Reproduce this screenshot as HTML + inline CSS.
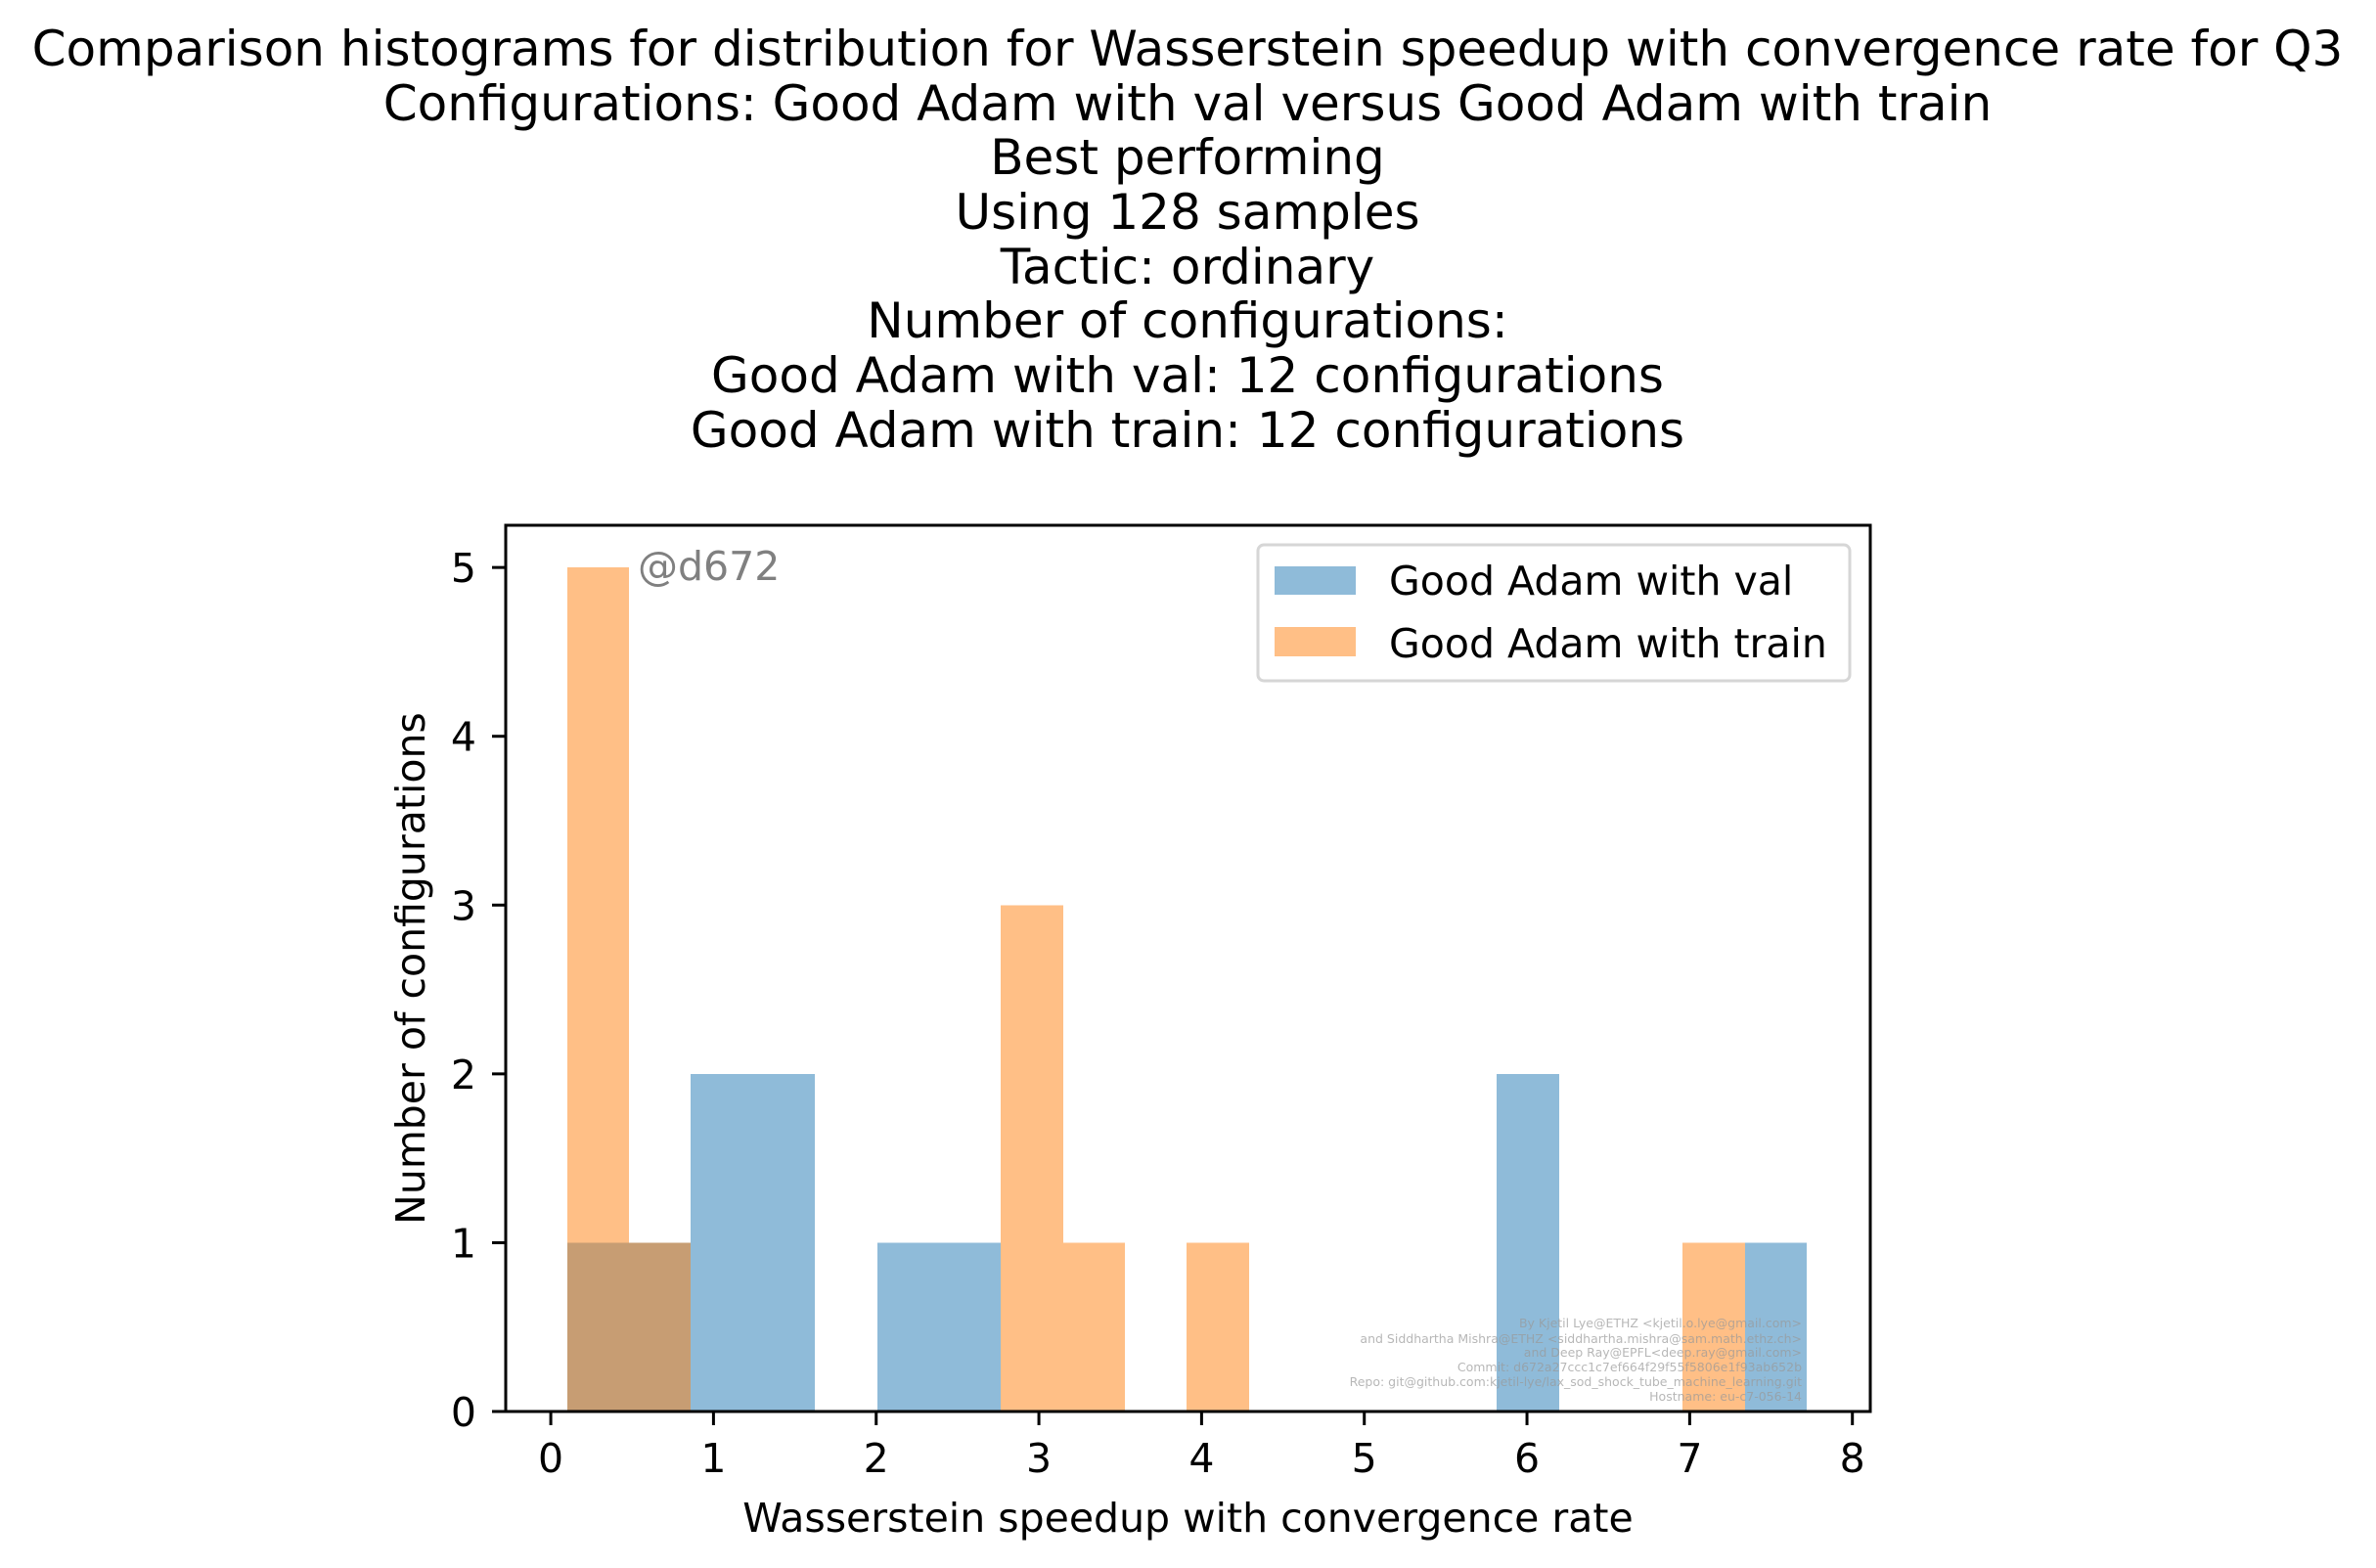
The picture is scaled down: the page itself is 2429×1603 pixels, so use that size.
<!DOCTYPE html>
<html><head><meta charset="utf-8"><style>body{margin:0;background:#fff}svg{display:block}text{font-family:"DejaVu Sans","Liberation Sans",sans-serif}</style></head>
<body>
<svg id="chart" width="2429" height="1603" xmlns="http://www.w3.org/2000/svg">
<g font-size="50" text-anchor="middle" fill="#000">
<text x="1214" y="67">Comparison histograms for distribution for Wasserstein speedup with convergence rate for Q3</text>
<text x="1214" y="123">Configurations: Good Adam with val versus Good Adam with train</text>
<text x="1214" y="178">Best performing</text>
<text x="1214" y="234">Using 128 samples</text>
<text x="1214" y="290">Tactic: ordinary</text>
<text x="1214" y="345">Number of configurations:</text>
<text x="1214" y="401">Good Adam with val: 12 configurations</text>
<text x="1214" y="457">Good Adam with train: 12 configurations</text>
</g>
<g id="bars" shape-rendering="crispEdges"></g>
<g id="axes"></g>
<text x="652" y="593" font-size="41" fill="#808080">@d672</text>
<g font-size="12.5" fill="#999" fill-opacity="0.7" text-anchor="end">
<text x="1842" y="1357">By Kjetil Lye@ETHZ &lt;kjetil.o.lye@gmail.com&gt;</text>
<text x="1842" y="1373">and Siddhartha Mishra@ETHZ &lt;siddhartha.mishra@sam.math.ethz.ch&gt;</text>
<text x="1842" y="1387">and Deep Ray@EPFL&lt;deep.ray@gmail.com&gt;</text>
<text x="1842" y="1402">Commit: d672a27ccc1c7ef664f29f55f5806e1f93ab652b</text>
<text x="1842" y="1417">Repo: git@github.com:kjetil-lye/lax_sod_shock_tube_machine_learning.git</text>
<text x="1842" y="1432">Hostname: eu-c7-056-14</text>
</g>
<g>
<rect x="1286" y="557" width="605" height="139" rx="6" fill="#fff" fill-opacity="0.8" stroke="#d6d6d6" stroke-width="3"/>
<rect x="1303" y="579" width="83" height="29" fill="#1f77b4" fill-opacity="0.5"/>
<text x="1420" y="608" font-size="41">Good Adam with val</text>
<rect x="1303" y="641" width="83" height="30" fill="#ff7f0e" fill-opacity="0.5"/>
<text x="1420" y="672" font-size="41">Good Adam with train</text>
</g>
</svg>
<script>
const binStart = 0.1;
const binWidth = 0.381;
const valCounts   = [1,1,2,2,0,1,1,0,0,0,0,0,0,0,0,2,0,0,0,1];
const trainCounts = [5,1,0,0,0,0,0,3,1,0,1,0,0,0,0,0,0,0,1,0];
const xTicks = [0,1,2,3,4,5,6,7,8];
const yTicks = [0,1,2,3,4,5];
const L=517,R=1912,T=537,B=1443;
const xMin=-0.277,xMax=8.11,yMin=0,yMax=5.25;
const xs=v=>L+(v-xMin)/(xMax-xMin)*(R-L);
const ys=v=>B-(v-yMin)/(yMax-yMin)*(B-T);
const NS='http://www.w3.org/2000/svg';
const bars=document.getElementById('bars'), axes=document.getElementById('axes');
function mk(tag,attrs,parent){const e=document.createElementNS(NS,tag);for(const k in attrs)e.setAttribute(k,attrs[k]);parent.appendChild(e);return e;}
function drawSeries(counts,color,name){counts.forEach((c,i)=>{if(!c)return;const x0=Math.round(xs(binStart+i*binWidth)),x1=Math.round(xs(binStart+(i+1)*binWidth));
const r=mk('rect',{x:x0,y:ys(c),width:x1-x0,height:ys(0)-ys(c),fill:color,'fill-opacity':0.5},bars);

});}
drawSeries(valCounts,'#1f77b4','val');
drawSeries(trainCounts,'#ff7f0e','train');
const frame=mk('rect',{x:L,y:T,width:R-L,height:B-T,fill:'none',stroke:'#000','stroke-width':3},axes);


xTicks.forEach(v=>{const x=xs(v);
const t=mk('line',{x1:x,x2:x,y1:B,y2:B+14,stroke:'#000','stroke-width':3},axes);


const l=mk('text',{x:x,y:1505,'font-size':41,'text-anchor':'middle'},axes);l.textContent=v;

});
yTicks.forEach(v=>{const y=ys(v);
const t=mk('line',{x1:L-14,x2:L,y1:y,y2:y,stroke:'#000','stroke-width':3},axes);


const l=mk('text',{x:487,y:y+15,'font-size':41,'text-anchor':'end'},axes);l.textContent=v;

});
const xl=mk('text',{x:(L+R)/2,y:1566,'font-size':41,'text-anchor':'middle'},axes);xl.textContent='Wasserstein speedup with convergence rate';


const yl=mk('text',{x:0,y:0,'font-size':41,'text-anchor':'middle',transform:'translate(434,990) rotate(-90)'},axes);yl.textContent='Number of configurations';


</script>
</body></html>
